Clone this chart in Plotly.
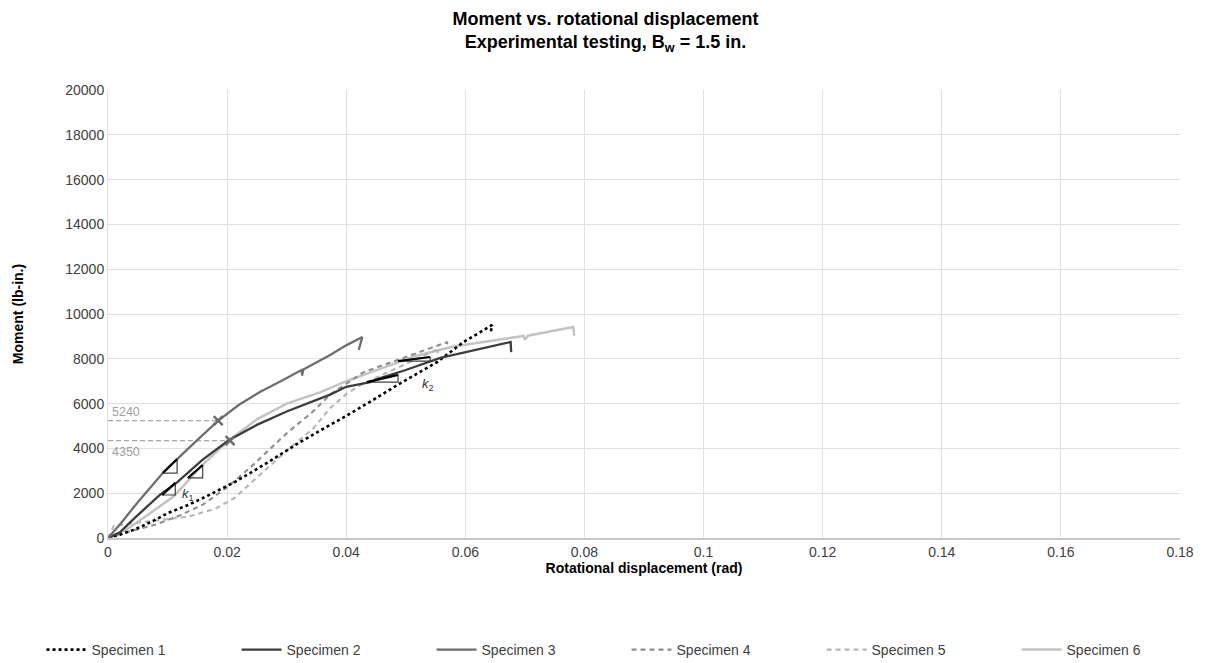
import plotly.graph_objects as go

# Measured moment-rotation curves, one pair of arrays per specimen
s1_rot = [0, 0.002, 0.0045, 0.0075, 0.0101, 0.0135, 0.0163, 0.0213, 0.0267, 0.0323, 0.0373, 0.039, 0.0435, 0.0486, 0.0553, 0.0597, 0.0637, 0.0645, 0.0642]
s1_mom = [0, 150, 380, 750, 1120, 1480, 1830, 2500, 3350, 4290, 5050, 5300, 6000, 6830, 7860, 8750, 9380, 9510, 9100]

s2_rot = [0, 0.002, 0.0045, 0.0087, 0.0116, 0.0158, 0.0202, 0.025, 0.030, 0.0356, 0.0373, 0.040, 0.044, 0.0457, 0.050, 0.0558, 0.063, 0.0676, 0.0677]
s2_mom = [0, 250, 900, 1920, 2480, 3480, 4350, 5050, 5650, 6200, 6400, 6750, 6960, 7140, 7500, 8040, 8480, 8750, 8300]

s3_rot = [0, 0.002, 0.005, 0.0092, 0.0135, 0.0185, 0.022, 0.0255, 0.029, 0.0325, 0.0326, 0.0328, 0.0373, 0.040, 0.0427, 0.0421]
s3_mom = [0, 600, 1600, 2900, 4000, 5240, 5950, 6520, 7000, 7500, 7250, 7520, 8170, 8600, 8970, 8400]

s4_rot = [0, 0.003, 0.008, 0.012, 0.016, 0.0202, 0.0239, 0.0267, 0.0301, 0.034, 0.0373, 0.0429, 0.0486, 0.0541, 0.057, 0.0568]
s4_mom = [0, 250, 600, 1000, 1500, 2300, 3150, 3850, 4700, 5550, 6400, 7400, 7950, 8480, 8750, 8550]

s5_rot = [0, 0.001, 0.004, 0.0084, 0.0134, 0.018, 0.0213, 0.025, 0.030, 0.0345, 0.0373, 0.0402, 0.0424, 0.047, 0.052, 0.0555, 0.0553]
s5_mom = [0, 550, 650, 800, 950, 1300, 1800, 2700, 3900, 4900, 5800, 6470, 6830, 7400, 8000, 8450, 8250]

s6_rot = [0, 0.003, 0.006, 0.011, 0.016, 0.0205, 0.025, 0.030, 0.0356, 0.040, 0.0457, 0.0513, 0.058, 0.0654, 0.0698, 0.070, 0.0705, 0.0781, 0.0783]
s6_mom = [0, 360, 900, 1850, 3300, 4400, 5300, 6000, 6500, 7000, 7550, 8100, 8550, 8840, 9020, 8850, 9030, 9420, 9030]

names = ["Specimen 1", "Specimen 2", "Specimen 3", "Specimen 4", "Specimen 5", "Specimen 6"]

# Yield points (moment, rotation)
yield_moments = [5240, 4350]
yield_rots = [0.0185, 0.0205]

# Stiffness slope triangles: [rot0, rot1], [mom0, mom1]
k1_triangles = [
    ([0.0092, 0.0116], [2900, 3530]),
    ([0.0091, 0.0113], [1920, 2460]),
    ([0.0134, 0.0159], [2680, 3260]),
]
k2_triangles = [
    ([0.0435, 0.0487], [6960, 7280]),
    ([0.0487, 0.0541], [7900, 8080]),
]

x_ticks = [0, 0.02, 0.04, 0.06, 0.08, 0.1, 0.12, 0.14, 0.16, 0.18]
y_ticks = [0, 2000, 4000, 6000, 8000, 10000, 12000, 14000, 16000, 18000, 20000]

series = [
    (s1_rot, s1_mom, "#000000", "3px,3px", 2.6),
    (s2_rot, s2_mom, "#3d3d3d", "solid", 2.3),
    (s3_rot, s3_mom, "#6e6e6e", "solid", 2.3),
    (s4_rot, s4_mom, "#8e8e8e", "5px,4px", 2.1),
    (s5_rot, s5_mom, "#b5b5b5", "5px,4px", 2.1),
    (s6_rot, s6_mom, "#c3c3c3", "solid", 2.5),
]

fig = go.Figure()

# Dashed reference lines to the yield points
for m, r in zip(yield_moments, yield_rots):
    fig.add_trace(go.Scatter(x=[0, r], y=[m, m], mode="lines",
                             line=dict(color="#a6a6a6", width=1.3, dash="5px,3px"),
                             showlegend=False, hoverinfo="skip"))

draw_order = [5, 4, 3, 0, 1, 2]
for i in draw_order:
    xs, ys, col, dash, w = series[i]
    fig.add_trace(go.Scatter(x=xs, y=ys, mode="lines", name=names[i],
                             line=dict(color=col, width=w, dash=dash),
                             legendrank=i + 1))

# Slope triangles
for (rx, my) in k1_triangles + k2_triangles:
    fig.add_trace(go.Scatter(x=[rx[0], rx[1], rx[1]], y=[my[0], my[0], my[1]],
                             mode="lines", line=dict(color="#404040", width=1.2),
                             showlegend=False, hoverinfo="skip"))
    fig.add_trace(go.Scatter(x=[rx[0], rx[1]], y=[my[0], my[1]],
                             mode="lines", line=dict(color="#000000", width=2.2),
                             showlegend=False, hoverinfo="skip"))

# Yield markers
fig.add_trace(go.Scatter(x=yield_rots, y=yield_moments, mode="markers",
                         marker=dict(symbol="x-thin", size=9, line=dict(color="#6a6a6a", width=2.5)),
                         showlegend=False, hoverinfo="skip"))

fig.add_annotation(x=0.0003, y=yield_moments[0], text=str(yield_moments[0]), showarrow=False,
                   xanchor="left", yanchor="bottom", font=dict(size=12.5, color="#a0a0a0"))
fig.add_annotation(x=0.0003, y=yield_moments[1], text=str(yield_moments[1]), showarrow=False,
                   xanchor="left", yanchor="top", yshift=-2, font=dict(size=12.5, color="#a0a0a0"))
fig.add_annotation(x=0.0135, y=1950, text="<i>k</i><sub>1</sub>", showarrow=False,
                   font=dict(size=13, color="#333333"))
fig.add_annotation(x=0.0538, y=6850, text="<i>k</i><sub>2</sub>", showarrow=False,
                   font=dict(size=13, color="#333333"))

font_family = "Liberation Sans, Arial, sans-serif"
fig.update_layout(
    width=1211, height=663,
    margin=dict(l=108, r=31, t=90, b=125, autoexpand=False),
    paper_bgcolor="white", plot_bgcolor="white",
    font=dict(family=font_family, color="#404040"),
    title=dict(text="<b>Moment vs. rotational displacement<br>Experimental testing, B<sub>w</sub> = 1.5 in.</b>",
               x=0.5, xref="container", xanchor="center", y=0.963, yref="container", yanchor="middle",
               font=dict(size=18, color="#000000")),
    xaxis=dict(range=[0, 0.18], tickvals=x_ticks, ticktext=[("%g" % v) for v in x_ticks],
               showgrid=True, gridcolor="#e0e0e0", gridwidth=1, zeroline=False,
               showline=True, linecolor="#c8c8c8", linewidth=2,
               ticks="", tickfont=dict(size=14, color="#404040"),
               title=dict(text="<b>Rotational displacement (rad)</b>", font=dict(size=14, color="#000000"), standoff=0)),
    yaxis=dict(range=[0, 20000], tickvals=y_ticks, ticktext=[str(v) for v in y_ticks],
               showgrid=True, gridcolor="#e0e0e0", gridwidth=1,
               zeroline=False, showline=True, linecolor="#e0e0e0", linewidth=1,
               ticks="", tickfont=dict(size=14, color="#404040"),
               title=dict(text="<b>Moment (lb-in.)</b>", font=dict(size=14, color="#000000"), standoff=38)),
    legend=dict(orientation="h", x=-0.062, xanchor="left", y=-0.25, yanchor="middle",
                entrywidth=140, entrywidthmode="pixels", traceorder="normal",
                font=dict(size=14, color="#404040"), itemwidth=40),
)

fig.write_html("out.html")
